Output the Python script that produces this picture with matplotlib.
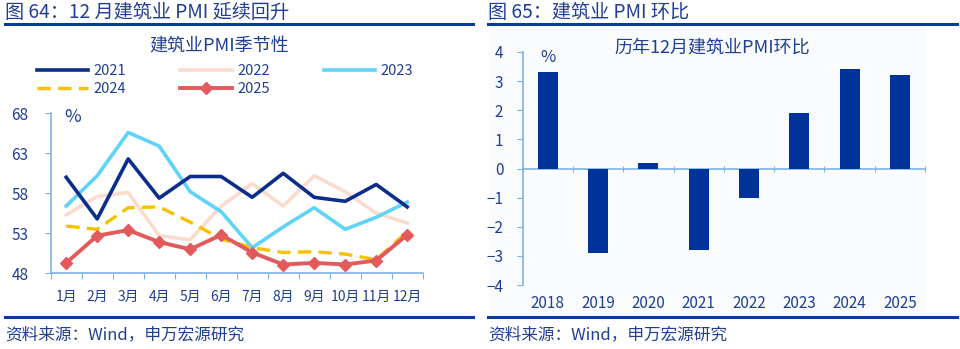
import matplotlib
matplotlib.use("Agg")
import matplotlib.pyplot as plt
from matplotlib.lines import Line2D
from matplotlib.patches import Rectangle

plt.rcParams['font.family'] = ['Noto Sans CJK SC', 'DejaVu Sans']

months = ["1月", "2月", "3月", "4月", "5月", "6月", "7月", "8月", "9月", "10月", "11月", "12月"]
pmi_2021 = [60.0, 54.8, 62.3, 57.4, 60.1, 60.1, 57.5, 60.5, 57.5, 57.0, 59.1, 56.3]
pmi_2022 = [55.3, 57.6, 58.1, 52.7, 52.2, 56.4, 59.2, 56.4, 60.2, 58.2, 55.5, 54.3]
pmi_2023 = [56.4, 60.2, 65.6, 63.9, 58.2, 55.7, 51.2, 53.8, 56.2, 53.5, 55.0, 56.9]
pmi_2024 = [53.9, 53.5, 56.2, 56.3, 54.4, 52.3, 51.2, 50.6, 50.7, 50.4, 49.7, 53.2]
pmi_2025 = [49.3, 52.7, 53.4, 51.9, 51.0, 52.8, 50.6, 49.1, 49.3, 49.1, 49.6, 52.8]

bar_years = ["2018", "2019", "2020", "2021", "2022", "2023", "2024", "2025"]
bar_mom = [3.3, -2.9, 0.2, -2.8, -1.0, 1.9, 3.4, 3.2]

W, H = 960, 349
fig = plt.figure(figsize=(9.6, 3.49), dpi=100)

TXT = '#1f3f94'
AX = '#7fb2e5'

def px_axes(x0, y0, x1, y1):
    return fig.add_axes([x0 / W, 1 - y1 / H, (x1 - x0) / W, (y1 - y0) / H])

def line_px(x0, x1, y, lw=2.2, color='#0a3a9c'):
    fig.add_artist(Line2D([x0 / W, x1 / W], [1 - y / H, 1 - y / H], color=color, lw=lw,
                          transform=fig.transFigure))

# Panel headers and footers
fig.text(5 / W, 1 - 12 / H, "图 64：12 月建筑业 PMI 延续回升", fontsize=13.8, color=TXT, va='center', ha='left')
fig.text(488 / W, 1 - 12 / H, "图 65：建筑业 PMI 环比", fontsize=13.8, color=TXT, va='center', ha='left')
line_px(5, 473, 24)
line_px(488, 957, 24)
line_px(5, 473, 317)
line_px(488, 957, 317)
fig.text(5 / W, 1 - 335 / H, "资料来源：Wind，申万宏源研究", fontsize=12, color=TXT, va='center', ha='left')
fig.text(488 / W, 1 - 335 / H, "资料来源：Wind，申万宏源研究", fontsize=12, color=TXT, va='center', ha='left')

# faint background on right panel
fig.add_artist(Rectangle((489 / W, 1 - 312 / H), (926 - 489) / W, (312 - 28) / H,
                         transform=fig.transFigure, facecolor='#fafbfc', edgecolor='none', zorder=-5))

# ---------- Left chart ----------
ax = px_axes(50.7, 113.3, 422.7, 273.3)
x = list(range(len(months)))
h21, = ax.plot(x, pmi_2021, color='#0b2d8c', lw=2.6, label='2021', zorder=3)
h22, = ax.plot(x, pmi_2022, color='#f9dccd', lw=2.6, label='2022', zorder=2)
h23, = ax.plot(x, pmi_2023, color='#5fd3f8', lw=2.6, label='2023', zorder=2)
h24, = ax.plot(x, pmi_2024, color='#f7c100', lw=2.4, ls=(0, (4, 2.2)), label='2024', zorder=3)
h25, = ax.plot(x, pmi_2025, color='#e25a5c', lw=2.8, marker='D', ms=6, label='2025', zorder=4)
ax.set_xlim(-0.5, 11.5)
ax.set_ylim(48, 68)
ax.set_yticks([48, 53, 58, 63, 68])
ax.set_xticks([i - 0.5 for i in range(13)], minor=False)
ax.set_xticklabels([])
ax.set_xticks(x, minor=True)
ax.set_xticklabels(months, minor=True)
ax.tick_params(axis='x', which='major', length=4, color=AX, direction='out')
ax.tick_params(axis='x', which='minor', length=0, labelsize=10, labelcolor=TXT, pad=12)
ax.tick_params(axis='y', length=4, color=AX, labelsize=11, labelcolor=TXT, pad=12)
for s in ['top', 'right']:
    ax.spines[s].set_visible(False)
for s in ['left', 'bottom']:
    ax.spines[s].set_color(AX)
    ax.spines[s].set_linewidth(1.2)
ax.patch.set_alpha(0)
ax.text(73 / W, 1 - 117 / H, "%", transform=fig.transFigure, fontsize=13, color=TXT, va='center', ha='center')
fig.text(219 / W, 1 - 47 / H, "建筑业PMI季节性", fontsize=13, color=TXT, ha='center', va='center')
order = [h21, h24, h22, h25, h23]
leg = ax.legend(order, [h.get_label() for h in order], loc='upper left',
                bbox_to_anchor=(37 / W, 1 - 64 / H), bbox_transform=fig.transFigure,
                ncol=3, frameon=False, fontsize=10.5, handlelength=3.5, columnspacing=3.7,
                handletextpad=0.4, labelspacing=0.3, borderaxespad=0, borderpad=0)
for t in leg.get_texts():
    t.set_color(TXT)

# ---------- Right chart ----------
bx = px_axes(522.7, 52, 925, 285)
xb = list(range(len(bar_years)))
bx.bar(xb, bar_mom, width=0.4, color='#003399', zorder=3)
bx.set_xlim(-0.5, 7.5)
bx.set_ylim(-4, 4)
bx.set_yticks(range(-4, 5))
bx.spines['bottom'].set_position(('data', 0))
bx.set_xticks([i - 0.5 for i in range(9)])
bx.set_xticklabels([])
bx.tick_params(axis='x', which='major', length=4, color=AX, direction='inout')
bx.tick_params(axis='y', length=4, color=AX, labelsize=11, labelcolor=TXT, pad=10)
for i, yr in enumerate(bar_years):
    bx.text(i, -4.35, yr, fontsize=11, color=TXT, ha='center', va='top')
for s in ['top', 'right']:
    bx.spines[s].set_visible(False)
for s in ['left', 'bottom']:
    bx.spines[s].set_color(AX)
    bx.spines[s].set_linewidth(1.2)
bx.patch.set_alpha(0)
fig.text(548 / W, 1 - 58 / H, "%", fontsize=12, color=TXT, ha='center', va='center')
fig.text(712 / W, 1 - 48 / H, "历年12月建筑业PMI环比", fontsize=13, color=TXT, ha='center', va='center')

fig.savefig("out.png", dpi=100, facecolor='white')
